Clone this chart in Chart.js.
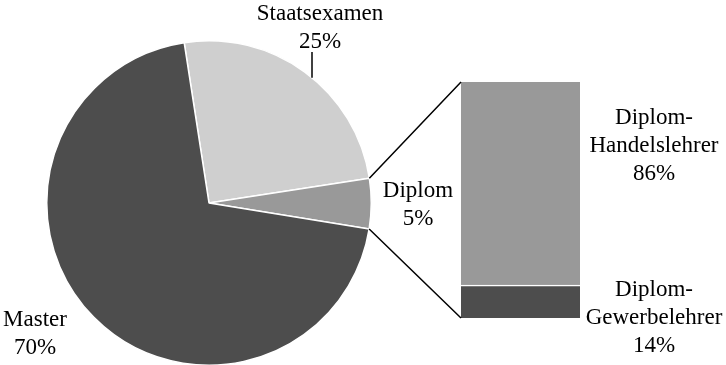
<!DOCTYPE html>
<html>
<head>
<meta charset="utf-8">
<script src="https://cdn.jsdelivr.net/npm/chart.js@4.4.1/dist/chart.umd.min.js"></script>
<style>
  html, body { margin: 0; padding: 0; background: #fff; overflow: hidden; }
  #wrap { position: relative; width: 726px; height: 365px; overflow: hidden; }
  #wrap canvas { position: absolute; }
  #pie { left: 46px; top: 40px; }
  #bar { left: 461px; top: 82px; }
  #overlay { left: 0; top: 0; pointer-events: none; }
</style>
</head>
<body>
<div id="wrap">
  <canvas id="pie" width="326" height="326"></canvas>
  <canvas id="bar" width="119" height="236"></canvas>
  <canvas id="overlay" width="726" height="365"></canvas>
</div>
<script>
// pie: share of degrees
const pieLabels = ["Staatsexamen", "Diplom", "Master"];
const pieValues = [25, 5, 70];
const pieColors = ["#cfcfcf", "#999999", "#4d4d4d"];

// bar: split of "Diplom" (bottom -> top)
const barLabels = [["Diplom-", "Gewerbelehrer"], ["Diplom-", "Handelslehrer"]];
const barValues = [14, 86];
const barColors = ["#4d4d4d", "#999999"];

const FONT = '23px "Liberation Serif", "Times New Roman", serif';

const pieChart = new Chart(document.getElementById("pie"), {
  type: "pie",
  data: {
    labels: pieLabels,
    datasets: [{
      data: pieValues,
      backgroundColor: pieColors,
      borderColor: "#fff",
      borderWidth: 1.5
    }]
  },
  options: {
    responsive: false,
    animation: false,
    rotation: -8.8,
    layout: { padding: 0 },
    plugins: { legend: { display: false }, tooltip: { enabled: false } }
  }
});

const barChart = new Chart(document.getElementById("bar"), {
  type: "bar",
  data: {
    labels: ["Diplom"],
    datasets: barValues.map((v, i) => ({
      label: barLabels[i].join(""),
      data: [v],
      backgroundColor: barColors[i],
      borderColor: "#fff",
      borderWidth: i === 0 ? { top: 1.5 } : 0,
      borderSkipped: false,
      barPercentage: 1,
      categoryPercentage: 1
    }))
  },
  options: {
    responsive: false,
    animation: false,
    layout: { padding: 0 },
    scales: {
      x: { stacked: true, display: false },
      y: { stacked: true, display: false, min: 0, max: 100 }
    },
    plugins: { legend: { display: false }, tooltip: { enabled: false } }
  }
});

// connector lines and labels
const ctx = document.getElementById("overlay").getContext("2d");
const pc = pieChart.canvas, bc = barChart.canvas;
const arcs = pieChart.getDatasetMeta(0).data;
const cx = pc.offsetLeft + arcs[0].x;
const cy = pc.offsetTop + arcs[0].y;
const r = arcs[0].outerRadius;

const lower = barChart.getDatasetMeta(0).data[0];
const upper = barChart.getDatasetMeta(1).data[0];
const barLeft = bc.offsetLeft + upper.x - upper.width / 2;
const barRight = bc.offsetLeft + upper.x + upper.width / 2;
const barTop = bc.offsetTop + upper.y;
const barBottom = bc.offsetTop + lower.base;

ctx.strokeStyle = "#000";
ctx.lineWidth = 1.5;
const dip = arcs[1];
ctx.beginPath();
ctx.moveTo(cx + r * Math.cos(dip.startAngle), cy + r * Math.sin(dip.startAngle));
ctx.lineTo(barLeft, barTop);
ctx.moveTo(cx + r * Math.cos(dip.endAngle), cy + r * Math.sin(dip.endAngle));
ctx.lineTo(barLeft, barBottom);
ctx.stroke();

// leader line for Staatsexamen
const lx = cx + 103;
ctx.beginPath();
ctx.moveTo(lx, cy - 151);
ctx.lineTo(lx, cy - Math.sqrt(r * r - 103 * 103));
ctx.stroke();

ctx.fillStyle = "#000";
ctx.font = FONT;
ctx.textAlign = "center";
ctx.textBaseline = "alphabetic";

function lines(arr, x, y0) {
  arr.forEach((t, i) => ctx.fillText(t, x, y0 + i * 28));
}

lines([pieLabels[0], pieValues[0] + "%"], cx + 111, cy - 183);
lines([pieLabels[1], pieValues[1] + "%"], cx + 209, cy - 6);
lines([pieLabels[2], pieValues[2] + "%"], cx - 174, cy + 123);

const upMid = bc.offsetTop + (upper.y + upper.base) / 2;
const loMid = bc.offsetTop + (lower.y + lower.base) / 2;
lines([...barLabels[1], barValues[1] + "%"], barRight + 74, upMid - 59.5);
lines([...barLabels[0], barValues[0] + "%"], barRight + 74, loMid - 5.5);
</script>
</body>
</html>
